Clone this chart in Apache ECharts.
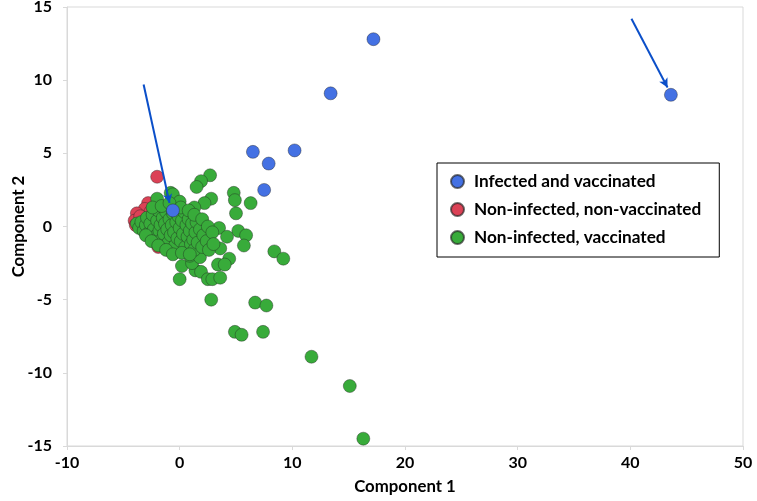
<!DOCTYPE html>
<html>
<head>
<meta charset="utf-8">
<script src="https://cdn.jsdelivr.net/npm/echarts@6/dist/echarts.min.js"></script>
<style>html,body{margin:0;padding:0;background:#fff;}#c{width:757px;height:501px;}</style>
</head>
<body>
<div id="c"></div>
<script>
const seriesNames = ['Infected and vaccinated', 'Non-infected, non-vaccinated', 'Non-infected, vaccinated'];
const infectedVaccinated = [
  [17.2, 12.8], [13.4, 9.1], [43.6, 9.0], [6.5, 5.1], [10.2, 5.2], [7.9, 4.3], [7.5, 2.5], [-0.6, 1.1]
];
const nonInfectedNonVaccinated = [
  [-2.0, 3.4], [-2.8, 1.6], [-3.1, 1.2], [-2.6, 1.0], [-3.8, 0.9], [-4.0, 0.4], [-3.9, 0.1], [-3.5, 0.7], [-1.9, -1.4]
];
const nonInfectedVaccinated = [
  [2.7, 3.5], [1.9, 3.1], [1.5, 2.7], [-0.8, 2.3], [-0.6, 2.2], [4.8, 2.3], [4.9, 1.8], [6.3, 1.6],
  [2.8, 1.9], [2.2, 1.6], [1.3, 1.3], [0.0, 1.7], [-2.0, 1.9], [5.0, 0.9], [3.5, -0.1], [5.2, -0.3],
  [5.9, -0.6], [5.7, -1.3], [4.2, -0.7], [3.6, -1.5], [4.4, -2.2], [3.4, -2.6], [4.0, -2.6], [8.4, -1.7],
  [9.2, -2.2], [1.8, -0.8], [2.3, -0.7], [1.7, 0.4], [1.3, -0.1], [0.2, -2.7], [0.0, -3.6], [1.4, -3.0],
  [1.9, -3.1], [2.5, -3.6], [2.9, -3.6], [3.6, -3.5], [1.1, -2.5], [0.9, -2.0], [1.8, -2.1], [-0.5, -1.8],
  [-1.2, -1.5], [2.3, -1.3], [2.8, -5.0], [6.7, -5.2], [7.7, -5.4], [4.9, -7.2], [5.5, -7.4], [7.4, -7.2],
  [11.7, -8.9], [15.1, -10.9], [16.3, -14.5],
  [-3.8, 0.2], [-3.6, -0.1], [-3.4, 0.3], [-3.2, -0.3], [-3.0, 0.1], [-2.9, 0.6], [-2.7, -0.4], [-2.6, 0.2],
  [-2.4, 0.8], [-2.3, -0.2], [-2.2, -0.7], [-2.0, 0.4], [-1.9, 1.1], [-1.8, -0.3], [-1.7, 0.1], [-1.6, -0.9],
  [-1.5, 0.6], [-1.4, -0.5], [-1.3, 0.2], [-1.2, 1.0], [-1.1, -0.2], [-1.0, -1.1], [-0.9, 0.5], [-0.8, -0.6],
  [-0.7, 0.1], [-0.6, 0.9], [-0.5, -0.4], [-0.4, -1.3], [-0.3, 0.3], [-0.2, -0.8], [-0.1, 0.7], [0.0, -0.1],
  [0.1, -1.0], [0.2, 0.4], [0.3, -0.5], [0.4, 1.0], [0.5, -1.4], [0.6, 0.1], [0.7, -0.7], [0.8, 0.5],
  [0.9, -0.3], [1.0, -1.2], [1.1, 0.2], [1.2, -0.9], [1.3, -1.6], [1.4, -0.4], [1.5, 0.3], [1.6, -1.1],
  [1.8, -0.2], [2.0, -1.4], [2.1, -0.6], [2.4, -1.0], [2.6, -1.6], [-3.0, -0.6], [-2.5, -1.0], [-1.9, -1.3],
  [-1.2, -1.6], [-0.6, -1.9], [0.2, -1.8], [0.9, -1.9], [-2.4, 1.3], [-1.6, 1.4], [-0.9, 1.6], [0.1, 1.3],
  [0.8, 1.1], [1.3, 0.8], [2.0, 0.5], [2.5, 0.0], [2.9, -0.4], [3.0, -1.2]
];
const arrows = [
  [[-3.2, 9.7], [-0.9, 1.6]],
  [[40.1, 14.2], [43.3, 9.5]]
];
const xTicks = {min: -10, max: 50, interval: 10};
const yTicks = {min: -15, max: 15, interval: 5};

const chart = echarts.init(document.getElementById('c'));
const font = 'Lato, "Open Sans", sans-serif';
const border = {borderColor: 'rgba(30,30,30,0.65)', borderWidth: 0.6, opacity: 1};
chart.setOption({
  animation: false,
  backgroundColor: '#fff',
  grid: {left: 67, right: 14, top: 7, bottom: 55, show: true, borderColor: '#d9d9d9', borderWidth: 1,
         containLabel: false, outerBoundsMode: 'none'},
  legend: {
    data: seriesNames,
    orient: 'vertical',
    left: 437, top: 163,
    padding: [10, 18, 11, 13],
    itemGap: 11,
    itemWidth: 23, itemHeight: 13,
    borderColor: '#000', borderWidth: 1,
    textStyle: {fontFamily: font, fontWeight: 'bold', fontSize: 17.2, color: '#000'}
  },
  xAxis: {
    type: 'value', min: xTicks.min, max: xTicks.max, interval: xTicks.interval,
    name: 'Component 1', nameLocation: 'middle', nameGap: 32, nameMoveOverlap: false,
    nameTextStyle: {fontFamily: font, fontWeight: 'bold', fontSize: 16.8, color: '#000'},
    axisLine: {show: true, onZero: false, lineStyle: {color: '#d9d9d9'}},
    axisTick: {show: true, length: 4, lineStyle: {color: '#d9d9d9'}},
    axisLabel: {fontFamily: font, fontWeight: 'bold', fontSize: 16, color: '#000', margin: 9},
    splitLine: {show: false}
  },
  yAxis: {
    type: 'value', min: yTicks.min, max: yTicks.max, interval: yTicks.interval,
    name: 'Component 2', nameLocation: 'middle', nameGap: 40, nameMoveOverlap: false,
    nameTextStyle: {fontFamily: font, fontWeight: 'bold', fontSize: 16.8, color: '#000'},
    axisLine: {show: true, onZero: false, lineStyle: {color: '#d9d9d9'}},
    axisTick: {show: true, length: 4, lineStyle: {color: '#d9d9d9'}},
    axisLabel: {fontFamily: font, fontWeight: 'bold', fontSize: 16, color: '#000', margin: 15},
    splitLine: {show: false}
  },
  series: [
    {
      name: seriesNames[0], type: 'scatter', data: infectedVaccinated, symbolSize: 13, z: 4,
      itemStyle: Object.assign({color: '#4471e3'}, border),
      markLine: {
        silent: true, symbol: ['none', 'arrow'], symbolSize: [7, 9],
        label: {show: false},
        lineStyle: {color: '#0b4fc9', width: 2, type: 'solid', opacity: 1},
        data: arrows.map(a => [{coord: a[0]}, {coord: a[1]}])
      }
    },
    {
      name: seriesNames[1], type: 'scatter', data: nonInfectedNonVaccinated, symbolSize: 13, z: 2,
      itemStyle: Object.assign({color: '#db4256'}, border)
    },
    {
      name: seriesNames[2], type: 'scatter', data: nonInfectedVaccinated, symbolSize: 13, z: 3,
      itemStyle: Object.assign({color: '#38ab3a'}, border)
    }
  ]
});
</script>
</body>
</html>
